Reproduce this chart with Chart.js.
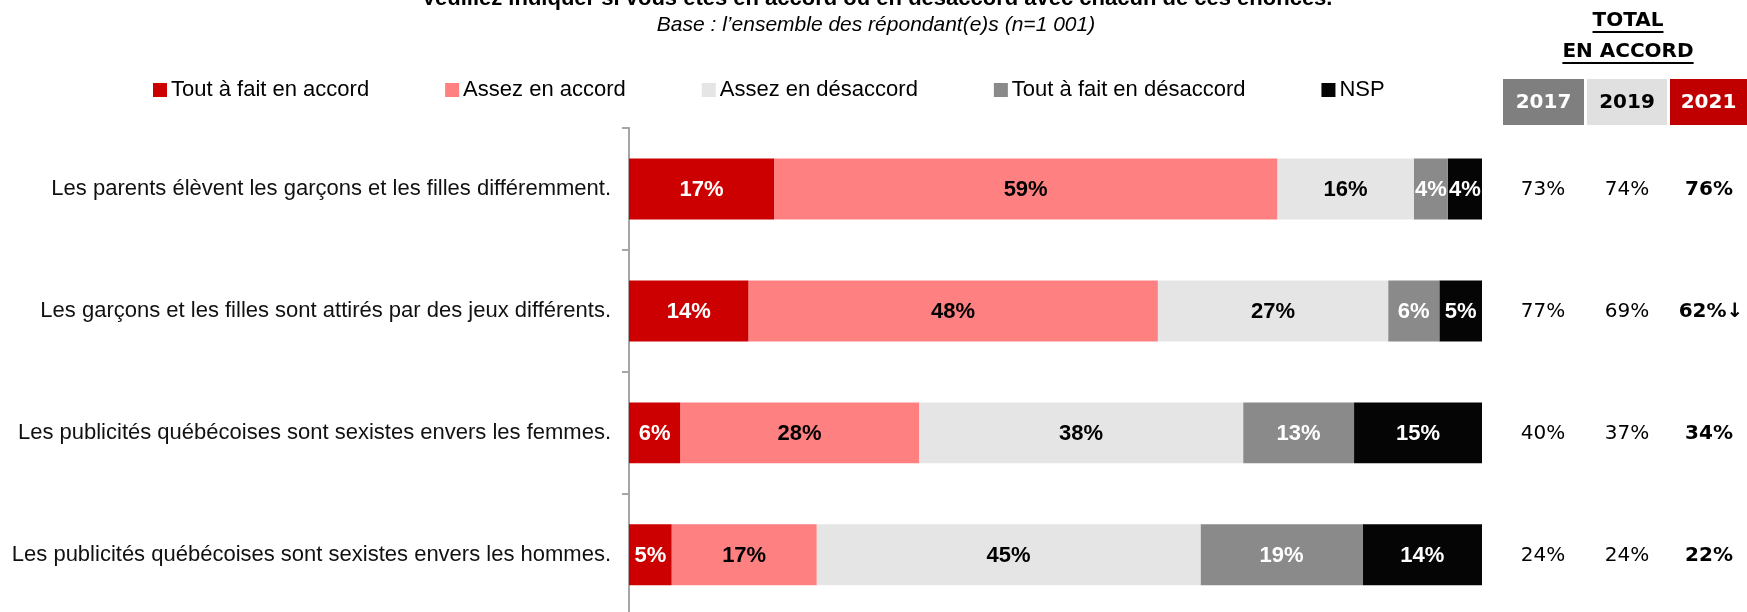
<!DOCTYPE html>
<html>
<head>
<meta charset="utf-8">
<script src="https://cdn.jsdelivr.net/npm/chart.js@4.4.1/dist/chart.umd.min.js"></script>
<style>
  html, body { margin: 0; padding: 0; background: #fff; overflow: hidden; }
  #wrap { width: 1747px; height: 612px; overflow: hidden; }
</style>
</head>
<body>
<div id="wrap"><canvas id="myChart" width="1747" height="640"></canvas></div>
<script>
const title = 'Veuillez indiquer si vous êtes en accord ou en désaccord avec chacun de ces énoncés.'
const subtitle = 'Base : l’ensemble des répondant(e)s (n=1 001)'

const categories = [
    'Les parents élèvent les garçons et les filles différemment.',
    'Les garçons et les filles sont attirés par des jeux différents.',
    'Les publicités québécoises sont sexistes envers les femmes.',
    'Les publicités québécoises sont sexistes envers les hommes.'
]
const seriesNames = ['Tout à fait en accord', 'Assez en accord', 'Assez en désaccord', 'Tout à fait en désaccord', 'NSP']
const toutAccord = [17, 14, 6, 5]
const assezAccord = [59, 48, 28, 17]
const assezDesaccord = [16, 27, 38, 45]
const toutDesaccord = [4, 6, 13, 19]
const nsp = [4, 5, 15, 14]

const years = ['2017', '2019', '2021']
const total2017 = ['73%', '77%', '40%', '24%']
const total2019 = ['74%', '69%', '37%', '24%']
const total2021 = ['76%', '62%', '34%', '22%']
const signif2021 = ['', '↓', '', '']

const colors = ['#cc0000', '#ff8080', '#e5e5e5', '#8a8a8a', '#050505']
const labelColors = ['#fff', '#000', '#000', '#fff', '#fff']
const yearFill = ['#7f7f7f', '#e0e0e0', '#c00000']
const yearText = ['#fff', '#000', '#fff']

const calibri = "'Liberation Sans', Arial, sans-serif"
const tableFont = "'DejaVu Sans', Verdana, sans-serif"

const overlay = {
    id: 'overlay',
    afterDraw(chart) {
        const ctx = chart.ctx
        const y = chart.scales.y
        ctx.save()

        // titre
        ctx.fillStyle = '#000'
        ctx.textAlign = 'center'
        ctx.textBaseline = 'alphabetic'
        ctx.font = 'bold 22px ' + calibri
        ctx.fillText(title, 877, 5)
        ctx.font = 'italic 21px ' + calibri
        ctx.textBaseline = 'middle'
        ctx.fillText(subtitle, 876, 25)

        // legende
        ctx.font = '22px ' + calibri
        ctx.textAlign = 'left'
        let lx = 153
        chart.data.datasets.forEach((ds, i) => {
            ctx.fillStyle = ds.backgroundColor
            ctx.fillRect(lx, 83, 14, 14)
            ctx.fillStyle = '#000'
            ctx.fillText(ds.label, lx + 18, 90)
            lx += 18 + ctx.measureText(ds.label).width + 76
        })

        // etiquettes dans les barres
        ctx.font = 'bold 22px ' + calibri
        ctx.textAlign = 'center'
        chart.data.datasets.forEach((ds, i) => {
            const meta = chart.getDatasetMeta(i)
            meta.data.forEach((bar, j) => {
                const p = bar.getProps(['x', 'y', 'base'], true)
                ctx.fillStyle = labelColors[i]
                ctx.fillText(ds.data[j] + '%', (p.x + p.base) / 2, p.y + 1)
            })
        })

        // total en accord
        const colX = [1543, 1627, 1709]
        const boxX = [[1503, 1584], [1587, 1667], [1670, 1747]]
        ctx.font = 'bold 20px ' + tableFont
        ctx.fillStyle = '#000'
        ctx.fillText('TOTAL', 1628, 21)
        ctx.fillText('EN ACCORD', 1628, 52)
        ctx.fillRect(1628 - ctx.measureText('TOTAL').width / 2, 31, ctx.measureText('TOTAL').width, 2)
        ctx.fillRect(1628 - ctx.measureText('EN ACCORD').width / 2, 62, ctx.measureText('EN ACCORD').width, 2)
        years.forEach((yr, k) => {
            ctx.fillStyle = yearFill[k]
            ctx.fillRect(boxX[k][0], 79, boxX[k][1] - boxX[k][0], 46)
            ctx.fillStyle = yearText[k]
            ctx.fillText(yr, (boxX[k][0] + boxX[k][1]) / 2, 103)
        })
        const cols = [total2017, total2019, total2021]
        categories.forEach((c, j) => {
            const py = y.getPixelForValue(j)
            cols.forEach((col, k) => {
                ctx.fillStyle = '#000'
                ctx.font = (k === 2 ? 'bold ' : '') + '20px ' + tableFont
                ctx.fillText(col[j] + (k === 2 ? signif2021[j] : ''), colX[k] + (k === 2 && signif2021[j] ? 2 : 0), py + 1)
            })
        })
        ctx.restore()
    }
}

const ctx = document.getElementById('myChart').getContext('2d')
const series = [toutAccord, assezAccord, assezDesaccord, toutDesaccord, nsp]
const myChart = new Chart(ctx, {
    type: 'bar',
    data: {
        labels: categories,
        datasets: series.map((d, i) => ({
            label: seriesNames[i],
            data: d,
            backgroundColor: colors[i],
            borderWidth: 0,
            barPercentage: 1,
            categoryPercentage: 0.5
        }))
    },
    options: {
        indexAxis: 'y',
        responsive: false,
        animation: false,
        devicePixelRatio: 1,
        layout: { padding: { top: 128, right: 265, left: 0, bottom: 0 } },
        plugins: { legend: { display: false }, tooltip: { enabled: false } },
        scales: {
            x: { stacked: true, min: 0, max: 100, display: false },
            y: {
                stacked: true,
                afterFit(scale) { scale.width = 629 },
                ticks: { color: '#111', padding: 11, font: { family: calibri, size: 22 } },
                grid: { drawOnChartArea: false, offset: true, tickLength: 7, color: '#a6a6a6', lineWidth: 2 },
                border: { color: '#a6a6a6', width: 2 }
            }
        }
    },
    plugins: [overlay]
})
</script>
</body>
</html>
